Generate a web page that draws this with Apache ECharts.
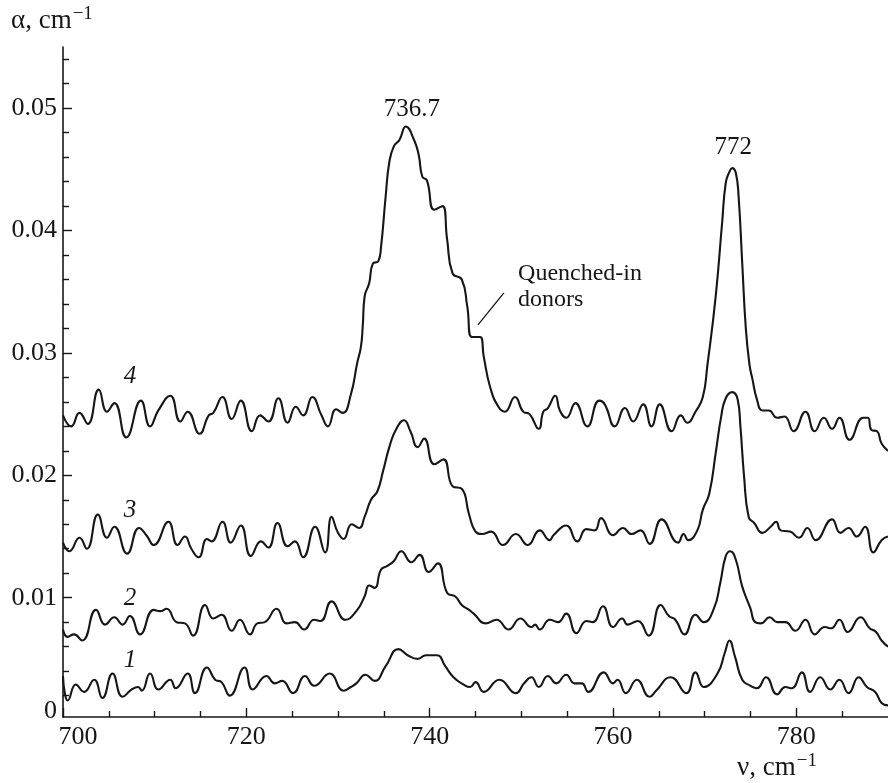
<!DOCTYPE html>
<html>
<head>
<meta charset="utf-8">
<script src="https://cdn.jsdelivr.net/npm/echarts@6/dist/echarts.min.js"></script>
<style>
  html, body { margin: 0; padding: 0; background: #fff; }
  #chart { width: 888px; height: 783px; }
</style>
</head>
<body>
<div id="chart"></div>
<script>
// Absorption spectra alpha(nu) of four samples, wavenumber in cm^-1.
const nu1 = [700.0,700.2,700.5,701.4,702.3,703.4,704.3,705.4,706.5,707.5,708.2,708.6,709.5,710.4,711.7,712.3,713.6,714.4,715.7,716.6,717.3,718.2,719.8,720.7,722.2,723.1,723.9,725.1,726.4,727.4,729.1,730.6,731.4,732.0,733.0,734.0,735.2,736.6,737.6,738.7,739.6,740.8,741.7,742.6,743.7,744.4,745.0,745.9,747.6,749.4,750.3,751.1,751.9,752.9,753.8,754.9,755.8,756.6,757.3,759.0,760.0,760.5,761.4,762.6,764.0,764.7,766.3,768.0,769.0,769.9,771.4,772.2,772.7,773.3,774.1,775.0,775.7,776.7,777.9,778.8,779.5,780.6,781.5,782.6,783.7,784.7,785.7,786.8,787.7,788.6,789.3,790.0];
const alpha1 = [0.0036,0.0022,0.0016,0.0029,0.0023,0.0033,0.0018,0.0038,0.0019,0.0025,0.0027,0.0024,0.0038,0.0025,0.0033,0.0026,0.0038,0.0022,0.0043,0.0033,0.0031,0.0020,0.0043,0.0025,0.0036,0.0030,0.0032,0.0022,0.0036,0.0028,0.0038,0.0024,0.0027,0.0030,0.0037,0.0032,0.0044,0.0058,0.0053,0.0050,0.0053,0.0053,0.0044,0.0035,0.0029,0.0027,0.0031,0.0023,0.0033,0.0022,0.0030,0.0035,0.0027,0.0036,0.0030,0.0037,0.0030,0.0030,0.0023,0.0039,0.0030,0.0033,0.0022,0.0033,0.0019,0.0024,0.0035,0.0022,0.0039,0.0027,0.0038,0.0055,0.0065,0.0052,0.0033,0.0028,0.0026,0.0035,0.0021,0.0027,0.0026,0.0039,0.0023,0.0035,0.0025,0.0033,0.0022,0.0035,0.0027,0.0023,0.0014,0.0012];

const nu2 = [700.0,700.5,701.2,702.1,703.6,704.6,705.6,706.5,707.3,708.4,709.9,710.6,711.3,712.4,713.3,714.2,715.5,716.4,717.3,718.4,719.3,720.4,721.2,722.0,723.3,724.4,725.3,726.3,727.4,728.1,729.3,730.8,732.0,732.9,733.4,734.0,734.7,735.4,736.1,736.9,738.0,738.9,739.9,740.9,741.9,742.8,743.5,744.3,744.8,746.1,747.3,748.6,749.9,751.1,751.5,752.0,753.1,754.0,754.9,756.0,757.1,757.8,758.9,760.0,761.0,761.6,762.7,763.9,765.2,766.1,766.8,767.8,769.0,769.9,771.0,771.7,772.3,772.8,773.4,774.1,775.0,775.5,776.1,777.1,777.9,778.8,779.9,781.0,782.0,783.1,783.8,784.7,785.6,787.0,788.0,788.7,789.3,790.0];
const alpha2 = [0.0074,0.0068,0.0070,0.0065,0.0090,0.0078,0.0084,0.0078,0.0085,0.0070,0.0090,0.0089,0.0091,0.0080,0.0079,0.0069,0.0094,0.0083,0.0086,0.0073,0.0082,0.0070,0.0079,0.0080,0.0091,0.0079,0.0080,0.0074,0.0082,0.0081,0.0097,0.0082,0.0089,0.0101,0.0110,0.0108,0.0123,0.0126,0.0130,0.0138,0.0129,0.0135,0.0121,0.0128,0.0104,0.0101,0.0094,0.0090,0.0087,0.0079,0.0082,0.0074,0.0083,0.0076,0.0078,0.0074,0.0082,0.0080,0.0087,0.0071,0.0081,0.0080,0.0093,0.0076,0.0083,0.0078,0.0081,0.0069,0.0094,0.0085,0.0082,0.0070,0.0086,0.0080,0.0091,0.0112,0.0134,0.0138,0.0131,0.0109,0.0091,0.0080,0.0079,0.0084,0.0080,0.0080,0.0073,0.0082,0.0070,0.0076,0.0075,0.0082,0.0072,0.0084,0.0075,0.0072,0.0065,0.0060];

const nu3 = [700.0,700.7,701.8,702.6,703.8,704.8,705.6,707.0,708.3,709.1,709.9,711.5,712.5,713.3,714.0,714.8,715.7,716.2,717.4,718.3,719.4,720.5,721.6,722.4,723.4,724.5,725.3,726.2,727.5,728.6,729.3,730.0,730.6,731.5,732.3,732.9,733.6,734.3,734.9,735.6,736.3,737.2,737.9,738.7,739.4,740.5,741.5,742.5,743.5,744.3,745.0,745.7,746.7,748.0,749.4,750.7,752.0,753.1,753.5,754.9,756.1,757.1,758.0,758.7,760.0,761.1,762.0,763.0,764.0,765.3,767.1,767.7,768.2,769.2,769.8,770.5,771.2,771.8,772.3,773.0,773.6,773.9,774.3,774.8,775.4,776.3,777.2,777.8,778.3,779.3,780.3,781.2,782.1,783.9,784.8,785.7,786.6,787.5,788.4,789.3,790.0];
const alpha3 = [0.0145,0.0138,0.0149,0.0140,0.0168,0.0149,0.0158,0.0136,0.0157,0.0151,0.0143,0.0162,0.0143,0.0150,0.0140,0.0133,0.0148,0.0146,0.0162,0.0145,0.0159,0.0134,0.0146,0.0141,0.0161,0.0142,0.0146,0.0133,0.0158,0.0137,0.0166,0.0153,0.0148,0.0160,0.0157,0.0166,0.0180,0.0187,0.0203,0.0223,0.0237,0.0245,0.0236,0.0223,0.0230,0.0209,0.0213,0.0191,0.0189,0.0168,0.0154,0.0152,0.0154,0.0143,0.0152,0.0143,0.0155,0.0147,0.0151,0.0159,0.0146,0.0156,0.0155,0.0165,0.0151,0.0157,0.0152,0.0155,0.0144,0.0164,0.0145,0.0152,0.0147,0.0155,0.0172,0.0185,0.0218,0.0248,0.0263,0.0268,0.0262,0.0240,0.0199,0.0166,0.0161,0.0153,0.0158,0.0162,0.0155,0.0154,0.0149,0.0157,0.0147,0.0164,0.0153,0.0157,0.0150,0.0158,0.0137,0.0147,0.0150];

const nu4 = [700.0,700.9,701.8,702.7,703.9,704.8,705.6,706.9,708.5,709.5,710.4,711.7,712.8,713.6,714.9,715.9,716.4,717.4,718.4,719.4,720.6,721.5,722.4,723.5,724.5,725.4,726.2,727.2,728.2,728.9,729.8,730.5,731.4,732.1,732.5,732.7,732.9,733.4,733.8,734.4,734.7,735.2,735.6,736.1,736.7,737.4,738.3,738.8,739.2,739.7,740.5,741.4,741.9,742.5,743.5,744.1,744.6,745.5,745.9,746.6,747.5,748.2,749.3,750.2,750.9,751.9,752.4,752.9,753.7,754.2,754.9,755.9,757.2,758.5,759.1,760.2,761.3,762.2,763.3,764.2,765.1,766.4,767.4,768.1,769.0,769.8,770.3,771.2,771.9,772.3,772.7,773.0,773.4,773.7,774.1,774.5,774.9,775.2,775.7,776.3,777.0,777.9,778.7,779.7,781.0,782.0,783.0,783.9,784.7,785.8,787.3,787.8,788.2,788.8,789.3,790.0];
const alpha4 = [0.0249,0.0240,0.0251,0.0242,0.0270,0.0252,0.0259,0.0231,0.0261,0.0240,0.0253,0.0265,0.0244,0.0252,0.0234,0.0249,0.0251,0.0264,0.0246,0.0261,0.0236,0.0249,0.0244,0.0263,0.0243,0.0256,0.0249,0.0264,0.0249,0.0240,0.0254,0.0251,0.0266,0.0292,0.0305,0.0322,0.0346,0.0357,0.0373,0.0375,0.0387,0.0428,0.0456,0.0469,0.0474,0.0485,0.0474,0.0462,0.0444,0.0441,0.0417,0.0420,0.0393,0.0365,0.0360,0.0338,0.0313,0.0313,0.0297,0.0272,0.0256,0.0252,0.0264,0.0252,0.0250,0.0238,0.0252,0.0255,0.0265,0.0253,0.0247,0.0259,0.0240,0.0261,0.0258,0.0240,0.0255,0.0244,0.0258,0.0240,0.0258,0.0236,0.0249,0.0243,0.0252,0.0264,0.0290,0.0346,0.0406,0.0439,0.0448,0.0451,0.0447,0.0428,0.0373,0.0319,0.0290,0.0279,0.0262,0.0253,0.0253,0.0247,0.0248,0.0236,0.0252,0.0236,0.0247,0.0238,0.0247,0.0229,0.0247,0.0247,0.0237,0.0236,0.0226,0.0220];

// Axis tick labels
const xTickLabels = [700, 720, 740, 760, 780];
const yTickLabels = [0.01, 0.02, 0.03, 0.04, 0.05];

// Curve numbers and band assignments
const curveNames = ['1', '2', '3', '4'];
const bandLabels = ['736.7', '772'];
const noteText = 'Quenched-in\ndonors';

// ---- layout / style ----
const FONT = '"Liberation Serif", "Times New Roman", serif';
const INK = '#161616';
const X_MIN = 700, X_MAX = 790;
const Y_MIN = 0.00025, Y_MAX = 0.055;

const xMinorTicks = [];
for (let v = 705; v < X_MAX; v += 5) if (v % 20 !== 0) xMinorTicks.push(v);
const yMinorTicks = [];
for (let k = 1; k <= 27; k++) if (k % 5 !== 0) yMinorTicks.push(+(k * 0.002).toFixed(3));

// label anchor points in data units
const curveLabelAt = [[707.3, 0.00491], [707.3, 0.00990], [707.3, 0.01717], [707.3, 0.02812]];
const noteAt = [749.1, 0.03539];
const leaderFrom = [745.27, 0.03229];
const leaderTo = [748.10, 0.03491];

function pairs(xs, ys) {
  const n = Math.min(xs.length, ys.length);
  const out = [];
  for (let i = 0; i < n; i++) out.push([xs[i], ys[i]]);
  return out;
}
function peakIndex(xs, ys, lo, hi) {
  let best = -1;
  for (let i = 0; i < xs.length; i++) {
    if (xs[i] >= lo && xs[i] <= hi && (best < 0 || ys[i] > ys[best])) best = i;
  }
  return best;
}

const curves = [[nu1, alpha1], [nu2, alpha2], [nu3, alpha3], [nu4, alpha4]];
const p1 = peakIndex(nu4, alpha4, 730, 750);
const p2 = peakIndex(nu4, alpha4, 765, 780);

const series = curves.map(([xs, ys], i) => {
  const s = {
    type: 'line',
    data: pairs(xs, ys),
    showSymbol: false,
    smooth: 0.5,
    silent: true,
    lineStyle: { color: INK, width: 2.1 },
    markPoint: {
      symbol: 'circle',
      symbolSize: 0,
      silent: true,
      label: {
        show: true,
        position: 'inside',
        fontFamily: FONT,
        fontStyle: 'italic',
        fontSize: 25,
        color: INK
      },
      data: [{ coord: curveLabelAt[i], value: curveNames[i] }]
    }
  };
  if (i === 3) {
    s.markPoint.data.push(
      { coord: [nu4[p1], alpha4[p1]], value: bandLabels[0],
        label: { position: 'top', distance: 5, offset: [6, 0], fontStyle: 'normal' } },
      { coord: [nu4[p2], alpha4[p2]], value: bandLabels[1],
        label: { position: 'top', distance: 8, offset: [1, 0], fontStyle: 'normal' } },
      { coord: noteAt, value: noteText,
        label: { position: 'right', distance: 5, align: 'left', lineHeight: 26,
                 fontSize: 24, fontStyle: 'normal' } }
    );
    s.markLine = {
      silent: true,
      symbol: 'none',
      label: { show: false },
      lineStyle: { color: INK, width: 1.3, type: 'solid' },
      data: [[{ coord: leaderFrom }, { coord: leaderTo }]]
    };
  }
  return s;
});

const chart = echarts.init(document.getElementById('chart'), null, { renderer: 'canvas' });
chart.setOption({
  animation: false,
  backgroundColor: '#fff',
  grid: { left: 63, top: 47, width: 829.4, bottom: 66 },
  xAxis: [
    {
      type: 'value', min: X_MIN, max: X_MAX, position: 'bottom',
      axisLine: { onZero: false, lineStyle: { color: INK, width: 1.6 } },
      splitLine: { show: false },
      axisTick: { inside: true, length: 9, customValues: xTickLabels, lineStyle: { color: INK, width: 1.4 } },
      axisLabel: {
        customValues: xTickLabels, margin: 7,
        fontFamily: FONT, fontSize: 26, color: INK,
        formatter: v => v === X_MIN ? '{first|' + v + '}' : String(v),
        rich: { first: { fontFamily: FONT, fontSize: 26, color: INK, padding: [0, 0, 0, 30] } }
      }
    },
    {
      type: 'value', min: X_MIN, max: X_MAX, position: 'bottom',
      axisLine: { show: false, onZero: false },
      splitLine: { show: false },
      axisLabel: { show: false },
      axisTick: { inside: true, length: 6, customValues: xMinorTicks, lineStyle: { color: INK, width: 1.4 } }
    }
  ],
  yAxis: [
    {
      type: 'value', min: Y_MIN, max: Y_MAX, position: 'left',
      axisLine: { onZero: false, lineStyle: { color: INK, width: 1.6 } },
      splitLine: { show: false },
      axisTick: { inside: true, length: 9, customValues: yTickLabels, lineStyle: { color: INK, width: 1.4 } },
      axisLabel: {
        customValues: [Y_MIN].concat(yTickLabels), margin: 6,
        fontFamily: FONT, fontSize: 26, color: INK,
        formatter: v => v < 0.005 ? '{zero|0}' : v.toFixed(2),
        rich: { zero: { fontFamily: FONT, fontSize: 26, color: INK, padding: [0, 0, 12, 0] } }
      }
    },
    {
      type: 'value', min: Y_MIN, max: Y_MAX, position: 'left',
      axisLine: { show: false, onZero: false },
      splitLine: { show: false },
      axisLabel: { show: false },
      axisTick: { inside: true, length: 6, customValues: yMinorTicks, lineStyle: { color: INK, width: 1.4 } }
    }
  ],
  graphic: [
    {
      type: 'text', x: 11, y: 21, silent: true,
      style: {
        text: '{b|α, cm}{s|−1}',
        verticalAlign: 'middle', align: 'left',
        rich: {
          b: { fontFamily: FONT, fontSize: 27, fill: INK },
          s: { fontFamily: FONT, fontSize: 19, fill: INK, padding: [0, 0, 13, 1] }
        }
      }
    },
    {
      type: 'text', x: 737, y: 768, silent: true,
      style: {
        text: '{b|ν, cm}{s|−1}',
        verticalAlign: 'middle', align: 'left',
        rich: {
          b: { fontFamily: FONT, fontSize: 27, fill: INK },
          s: { fontFamily: FONT, fontSize: 19, fill: INK, padding: [0, 0, 13, 1] }
        }
      }
    }
  ],
  series: series
});
</script>
</body>
</html>
